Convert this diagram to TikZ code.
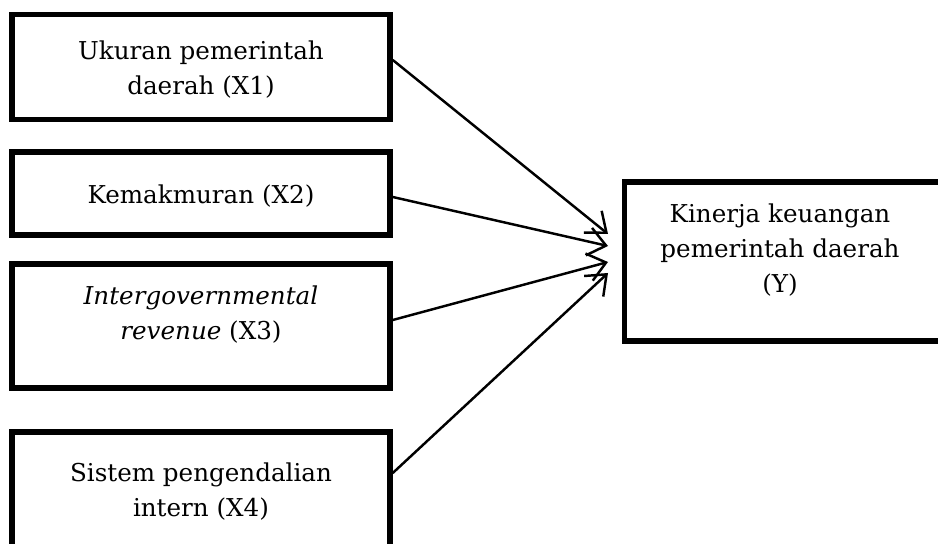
\documentclass[tikz,border=0pt]{standalone}
\usepackage{fontspec}
\setmainfont{DejaVu Serif}
\usetikzlibrary{arrows.meta}
\begin{document}
\begin{tikzpicture}[x=0.02cm, y=-0.02cm, font=\fontsize{14}{20}\selectfont]
\useasboundingbox (0,0) rectangle (938,544);

\node[draw, line width=3.2pt, minimum width=7.56cm, minimum height=2.1cm] (X1) at (201,67) {};
\node[draw, line width=3.2pt, minimum width=7.56cm, minimum height=1.66cm] (X2) at (201,193.5) {};
\node[draw, line width=3.2pt, minimum width=7.56cm, minimum height=2.48cm] (X3) at (201,326) {};
\node[draw, line width=3.2pt, minimum width=7.56cm, minimum height=2.6cm] (X4) at (201,497) {};
\node[draw, line width=3.2pt, minimum width=6.5cm, minimum height=3.18cm] (Y) at (787,261.5) {};

\node[align=center] (t1) at (201,70) {Ukuran pemerintah\\daerah (X1)};
\node (t2) at (201,196) {Kemakmuran (X2)};
\node[align=center] (t3) at (201,315) {\textit{Intergovernmental}\\\textit{revenue} (X3)};
\node[align=center] (t4) at (201,492) {Sistem pengendalian\\intern (X4)};
\node[align=center] (ty) at (780,250) {Kinerja keuangan\\pemerintah daerah\\(Y)};

\coordinate (e1) at (608,234);
\coordinate (e2) at (608,246);
\coordinate (e3) at (608,262);
\coordinate (e4) at (608,273);

\path[-{Straight Barb[length=10pt,width=16pt]}, line width=1.4pt] (X1.east |- 0,60) edge (e1);
\path[-{Straight Barb[length=10pt,width=16pt]}, line width=1.4pt] (X2.east |- 0,197) edge (e2);
\path[-{Straight Barb[length=10pt,width=16pt]}, line width=1.4pt] (X3.east |- 0,320) edge (e3);
\path[-{Straight Barb[length=10pt,width=16pt]}, line width=1.4pt] (X4.east |- 0,473) edge (e4);

\end{tikzpicture}
\end{document}
